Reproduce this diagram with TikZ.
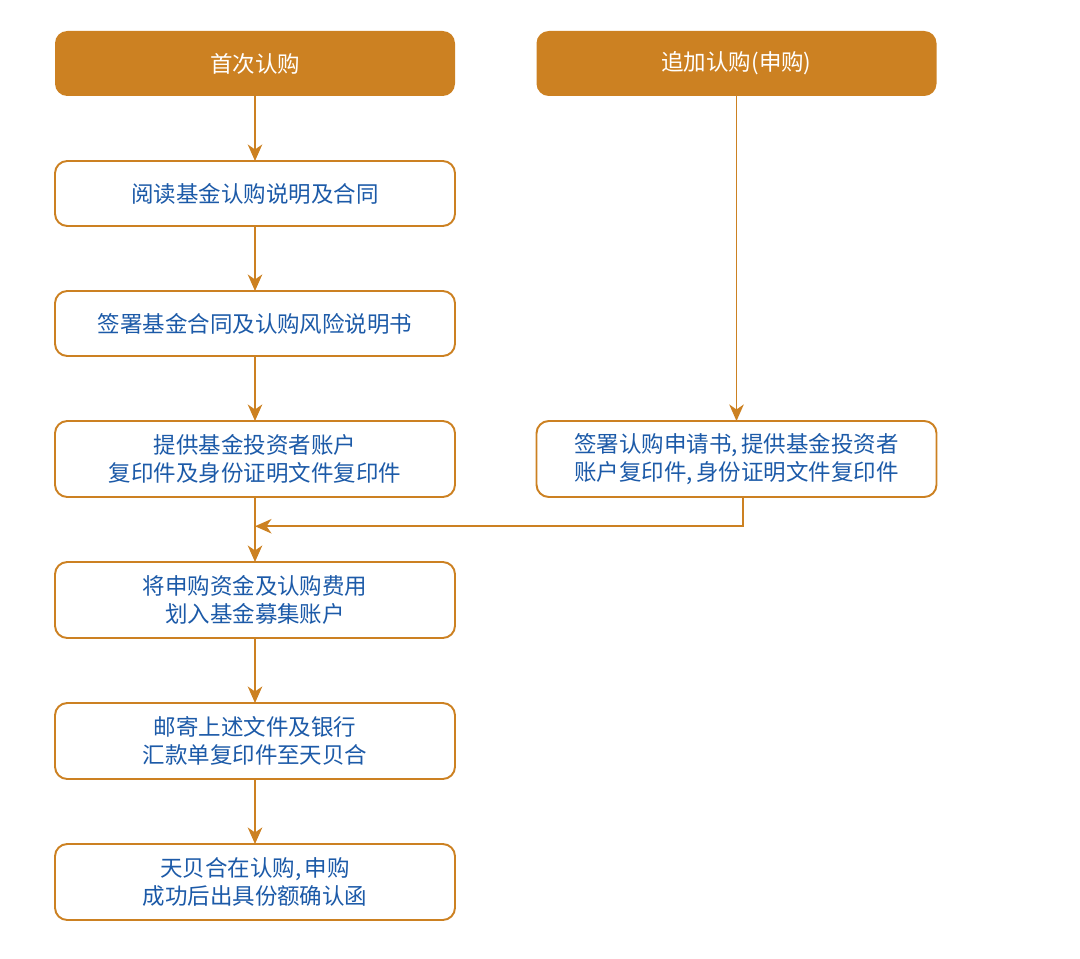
\documentclass[tikz,border=0pt]{standalone}
\usepackage{fontspec}
\setmainfont{Noto Sans CJK SC}
\usepackage{tikz}
\usetikzlibrary{positioning, arrows.meta, calc}
\definecolor{flowOrange}{RGB}{204, 129, 34}
\definecolor{flowBlue}{RGB}{28, 90, 168}
\newcommand{\cm}{,\hspace{0.15em}}
\tikzset{
  hdr/.style={rounded corners=7pt, fill=flowOrange, text=white, outer sep=0pt,
              align=center, font=\fontsize{12.8}{16}\selectfont,
              minimum width=8cm, minimum height=1.3cm},
  stepbox/.style={rounded corners=7pt, draw=flowOrange, line width=1.1pt, fill=white,
              text=flowBlue, align=center, font=\fontsize{12.8}{15.9}\selectfont,
              minimum width=8cm, minimum height=#1, inner sep=2pt, outer sep=0pt},
  stepbox/.default=1.3cm,
  arr/.style={-{Stealth[length=3.3mm, width=2.9mm, inset=1mm]}, line width=1.1pt, draw=flowOrange},
}
\begin{document}
\begin{tikzpicture}[node distance=1.3cm]
  \useasboundingbox (0,0) rectangle (21.6,-19.18);
  % Headers
  \node[hdr] (first) at (5.1,-1.27) {首次认购};
  \node[hdr] (extra) at (14.73,-1.27) {追加认购(申购)};
  % First subscription steps
  \node[stepbox, below=of first] (read) {阅读基金认购说明及合同};
  \node[stepbox, below=of read] (sign) {签署基金合同及认购风险说明书};
  \node[stepbox=1.52cm, below=of sign] (copy) {提供基金投资者账户\\复印件及身份证明文件复印件};
  \node[stepbox=1.52cm, below=of copy] (pay) {将申购资金及认购费用\\划入基金募集账户};
  \node[stepbox=1.52cm, below=of pay] (mail) {邮寄上述文件及银行\\汇款单复印件至天贝合};
  \node[stepbox=1.52cm, below=of mail] (conf) {天贝合在认购\cm 申购\\成功后出具份额确认函};
  % Additional subscription
  \node[stepbox=1.52cm] (apply) at (extra |- copy) {签署认购申请书\cm 提供基金投资者\\账户复印件\cm 身份证明文件复印件};
  \coordinate (merge) at ($(copy.south)!0.45!(pay.north)$);
  % Arrows
  \draw[arr] (first) -- (read);
  \draw[arr] (read) -- (sign);
  \draw[arr] (sign) -- (copy);
  \draw[arr] (copy) -- (pay);
  \draw[arr] (pay) -- (mail);
  \draw[arr] (mail) -- (conf);
  \draw[arr] (extra) -- (apply);
  \draw[arr] ($(apply.south)+(0.13,0)$) |- (merge);
\end{tikzpicture}
\end{document}
